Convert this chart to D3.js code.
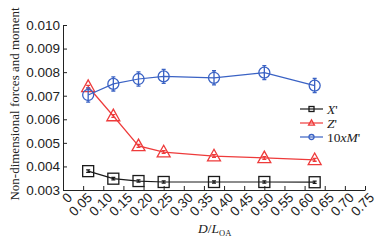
<!DOCTYPE html>
<html>
<head>
<meta charset="utf-8">
<script src="https://cdn.jsdelivr.net/npm/d3@7"></script>
<style>
  body { margin: 0; background: #fff; }
  svg { font-family: "Liberation Serif", "Times New Roman", serif; }
</style>
</head>
<body>
<div id="chart"></div>
<script>
// Data
const ratios = [0.0625, 0.125, 0.1875, 0.25, 0.375, 0.5, 0.625];
const xPrime = [0.00380, 0.00348, 0.00338, 0.00334, 0.00334, 0.00334, 0.00333];
const zPrime = [0.00738, 0.00614, 0.00487, 0.00461, 0.00444, 0.00436, 0.00428];
const mPrime = [0.00703, 0.00750, 0.00771, 0.00782, 0.00776, 0.00798, 0.00743];
const xErr = [0.00005, 0.00005, 0.00005, 0.00005, 0.00005, 0.00005, 0.00005];
const zErr = [0.00006, 0.00006, 0.00006, 0.00006, 0.00006, 0.00006, 0.00006];
const mErr = [0.00030, 0.00030, 0.00030, 0.00030, 0.00030, 0.00030, 0.00030];
const xTicks = [0, 0.05, 0.10, 0.15, 0.20, 0.25, 0.30, 0.35, 0.40, 0.45, 0.50, 0.55, 0.60, 0.65, 0.70, 0.75];
const yTicks = [0.003, 0.004, 0.005, 0.006, 0.007, 0.008, 0.009, 0.010];

const series = [
    { name: "X", values: xPrime, err: xErr, colour: "#1a1a1a", shape: "square" },
    { name: "Z", values: zPrime, err: zErr, colour: "#ee3b3b", shape: "triangle" },
    { name: "M", values: mPrime, err: mErr, colour: "#3a62c4", shape: "circle" }
];

const W = 382, H = 240;
const margin = { top: 25, right: 17, bottom: 50, left: 63 };
const width = W - margin.left - margin.right;
const height = H - margin.top - margin.bottom;

const svg = d3.select("#chart").append("svg")
    .attr("width", W)
    .attr("height", H);
const g = svg.append("g")
    .attr("transform", `translate(${margin.left}, ${margin.top})`);

const x = d3.scaleLinear().domain([0, 0.75]).range([0, width]);
const y = d3.scaleLinear().domain([0.003, 0.010]).range([height, 0]);

// Axes with inward ticks
const xAxis = g.append("g")
    .attr("transform", `translate(0, ${height})`)
    .call(d3.axisBottom(x).tickValues(xTicks).tickSizeInner(-4).tickSizeOuter(0)
        .tickFormat((d) => d === 0 ? "0" : d3.format(".2f")(d)));
xAxis.selectAll("text")
    .attr("font-size", 13.5)
    .attr("fill", "#222")
    .attr("text-anchor", "end")
    .attr("dy", "0.35em")
    .attr("transform", "translate(4, 3) rotate(-45)");

const yAxis = g.append("g")
    .call(d3.axisLeft(y).tickValues(yTicks).tickSizeInner(-4).tickSizeOuter(0)
        .tickFormat(d3.format(".3f")));
yAxis.selectAll("text")
    .attr("font-size", 13.5)
    .attr("fill", "#222")
    .attr("x", -3);

g.selectAll(".domain, .tick line").attr("stroke", "#222");

// Axis titles
svg.append("text")
    .attr("transform", `translate(19, 104) rotate(-90)`)
    .attr("text-anchor", "middle")
    .attr("font-size", 13)
    .attr("fill", "#222")
    .text("Non-dimensional forces and moment");

const xt = svg.append("text")
    .attr("x", 198)
    .attr("y", 233)
    .attr("font-size", 13.5)
    .attr("fill", "#222");
xt.append("tspan").attr("font-style", "italic").text("D");
xt.append("tspan").text("/");
xt.append("tspan").attr("font-style", "italic").text("L");
xt.append("tspan").attr("font-size", 8.5).attr("dy", 3).text("OA");

const line = d3.line()
    .x((d, i) => x(ratios[i]))
    .y((d) => y(d));

function drawMarker(sel, shape, colour, size) {
    if (shape === "square") {
        sel.append("rect")
            .attr("x", -size / 2).attr("y", -size / 2)
            .attr("width", size).attr("height", size)
            .attr("fill", "none").attr("stroke", colour).attr("stroke-width", 1.3);
    } else if (shape === "triangle") {
        const s = size * 0.62;
        sel.append("path")
            .attr("d", `M0,${-s}L${s * 0.95},${s * 0.7}L${-s * 0.95},${s * 0.7}Z`)
            .attr("fill", "none").attr("stroke", colour).attr("stroke-width", 1.3);
    } else {
        sel.append("circle")
            .attr("r", size / 2)
            .attr("fill", "none").attr("stroke", colour).attr("stroke-width", 1.3);
    }
}

series.forEach((s) => {
    g.append("path")
        .datum(s.values)
        .attr("fill", "none")
        .attr("stroke", s.colour)
        .attr("stroke-width", 1.2)
        .attr("d", line);

    const pts = g.selectAll(null)
        .data(s.values)
        .enter()
        .append("g")
        .attr("transform", (d, i) => `translate(${x(ratios[i])}, ${y(d)})`);

    // error bars
    pts.append("path")
        .attr("d", (d, i) => {
            const h = y(d - s.err[i]) - y(d);
            return `M0,${-h}V${h}M-2,${-h}H2M-2,${h}H2`;
        })
        .attr("fill", "none")
        .attr("stroke", s.colour)
        .attr("stroke-width", 1.3);

    pts.each(function () { drawMarker(d3.select(this), s.shape, s.colour, 11); });
});

// Legend
const legend = svg.append("g").attr("transform", "translate(300, 109)");
series.forEach((s, i) => {
    const row = legend.append("g").attr("transform", `translate(0, ${i * 14})`);
    row.append("line")
        .attr("x1", 0).attr("x2", 23)
        .attr("stroke", s.colour).attr("stroke-width", 1.2);
    const m = row.append("g").attr("transform", "translate(11.5, 0)");
    drawMarker(m, s.shape, s.colour, 5);
    const t = row.append("text")
        .attr("x", 27).attr("y", 4.5)
        .attr("font-size", 13.5)
        .attr("fill", "#222");
    if (s.name === "M") {
        t.append("tspan").text("10");
        t.append("tspan").attr("font-style", "italic").text("xM");
        t.append("tspan").text("'");
    } else {
        t.append("tspan").attr("font-style", "italic").text(s.name);
        t.append("tspan").text("'");
    }
});
</script>
</body>
</html>
